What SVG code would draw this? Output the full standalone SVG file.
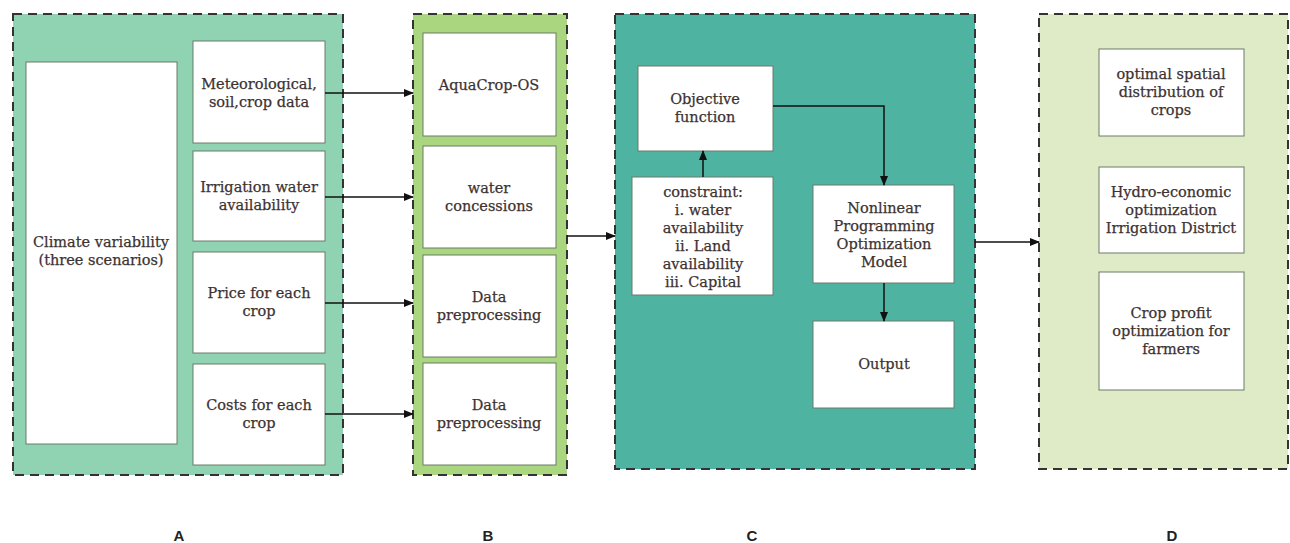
<svg xmlns="http://www.w3.org/2000/svg" width="1290" height="543" viewBox="0 0 1290 543">
<defs>
<marker id="ah" markerWidth="10" markerHeight="8" refX="9" refY="4" orient="auto" markerUnits="userSpaceOnUse">
<path d="M0,0 L10,4 L0,8 Z" fill="#111"/>
</marker>
<style>
.panel{stroke:#333;stroke-width:2;stroke-dasharray:9,6}
.box{fill:#fff;stroke:#6a7a6a;stroke-width:1}
.t{font-family:"DejaVu Serif","Liberation Serif",serif;font-size:14.5px;fill:#3d3232;stroke:#3d3232;stroke-width:0.25;text-anchor:middle}
.lbl{font-family:"Liberation Sans",Arial,sans-serif;font-size:15px;font-weight:bold;fill:#222;text-anchor:middle}
.c{fill:none;stroke:#111;stroke-width:1.5;marker-end:url(#ah)}
</style>
</defs>
<rect width="1290" height="543" fill="#fff"/>

<g id="panelA">
<rect class="panel" x="13" y="14" width="330" height="461" fill="#8fd3b2"/>
<g id="climate"><rect class="box" x="26" y="62" width="151" height="382"/>
<text class="t" x="101" y="247">Climate variability</text><text class="t" x="101" y="265">(three scenarios)</text></g>
<g id="meteo"><rect class="box" x="193" y="41" width="132" height="102"/>
<text class="t" x="259" y="89">Meteorological,</text><text class="t" x="259" y="107">soil,crop data</text></g>
<g id="irrigation"><rect class="box" x="193" y="151" width="132" height="90"/>
<text class="t" x="259" y="192">Irrigation water</text><text class="t" x="259" y="210">availability</text></g>
<g id="price"><rect class="box" x="193" y="252" width="132" height="101"/>
<text class="t" x="259" y="298">Price for each</text><text class="t" x="259" y="316">crop</text></g>
<g id="costs"><rect class="box" x="193" y="364" width="132" height="101"/>
<text class="t" x="259" y="410">Costs for each</text><text class="t" x="259" y="428">crop</text></g>
</g>

<g id="panelB">
<rect class="panel" x="413" y="14" width="154" height="461" fill="#a9d67e"/>
<g id="aquacrop"><rect class="box" x="423" y="33" width="133" height="103"/>
<text class="t" x="489" y="90">AquaCrop-OS</text></g>
<g id="concessions"><rect class="box" x="423" y="146" width="133" height="102"/>
<text class="t" x="489" y="193">water</text><text class="t" x="489" y="211">concessions</text></g>
<g id="prep1"><rect class="box" x="423" y="255" width="133" height="102"/>
<text class="t" x="489" y="302">Data</text><text class="t" x="489" y="320">preprocessing</text></g>
<g id="prep2"><rect class="box" x="423" y="363" width="133" height="102"/>
<text class="t" x="489" y="410">Data</text><text class="t" x="489" y="428">preprocessing</text></g>
</g>

<g id="panelC">
<rect class="panel" x="615" y="14" width="360" height="455" fill="#4fb3a2"/>
<g id="objective"><rect class="box" x="638" y="66" width="135" height="85"/>
<text class="t" x="705" y="104">Objective</text><text class="t" x="705" y="122">function</text></g>
<g id="constraint"><rect class="box" x="632" y="177" width="141" height="118"/>
<text class="t" x="703" y="197">constraint:</text><text class="t" x="703" y="215">i. water</text><text class="t" x="703" y="233">availability</text><text class="t" x="703" y="251">ii. Land</text><text class="t" x="703" y="269">availability</text><text class="t" x="703" y="287">iii. Capital</text></g>
<g id="nlp"><rect class="box" x="813" y="185" width="141" height="98"/>
<text class="t" x="884" y="213">Nonlinear</text><text class="t" x="884" y="231">Programming</text><text class="t" x="884" y="249">Optimization</text><text class="t" x="884" y="267">Model</text></g>
<g id="output"><rect class="box" x="813" y="321" width="141" height="87"/>
<text class="t" x="884" y="369">Output</text></g>
</g>

<g id="panelD">
<rect class="panel" x="1039" y="14" width="249" height="455" fill="#dfebc6"/>
<g id="spatial"><rect class="box" x="1099" y="49" width="145" height="87"/>
<text class="t" x="1171" y="79">optimal spatial</text><text class="t" x="1171" y="97">distribution of</text><text class="t" x="1171" y="115">crops</text></g>
<g id="hydro"><rect class="box" x="1099" y="167" width="145" height="86"/>
<text class="t" x="1171" y="197">Hydro-economic</text><text class="t" x="1171" y="215">optimization</text><text class="t" x="1171" y="233">Irrigation District</text></g>
<g id="profit"><rect class="box" x="1099" y="272" width="145" height="118"/>
<text class="t" x="1171" y="318">Crop profit</text><text class="t" x="1171" y="336">optimization for</text><text class="t" x="1171" y="354">farmers</text></g>
</g>

<g id="connectors">
<line class="c" x1="325" y1="93" x2="413" y2="93"/>
<line class="c" x1="325" y1="197" x2="413" y2="197"/>
<line class="c" x1="325" y1="303" x2="413" y2="303"/>
<line class="c" x1="325" y1="414" x2="413" y2="414"/>
<line class="c" x1="567" y1="236" x2="615" y2="236"/>
<line class="c" x1="703" y1="177" x2="703" y2="151"/>
<polyline class="c" points="773,106 884,106 884,185"/>
<line class="c" x1="884" y1="283" x2="884" y2="321"/>
<line class="c" x1="975" y1="242" x2="1039" y2="242"/>
</g>

<g id="labels">
<text class="lbl" x="179" y="541">A</text>
<text class="lbl" x="488" y="541">B</text>
<text class="lbl" x="752" y="541">C</text>
<text class="lbl" x="1172" y="541">D</text>
</g>
</svg>
